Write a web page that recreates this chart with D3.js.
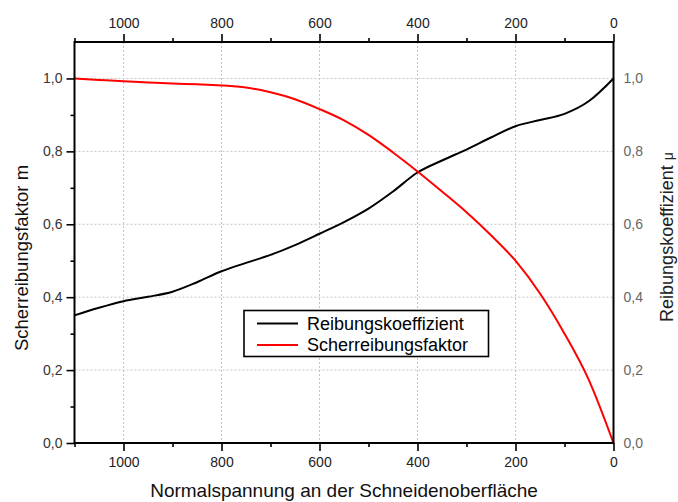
<!DOCTYPE html>
<html>
<head>
<meta charset="utf-8">
<script src="https://cdn.jsdelivr.net/npm/d3@7"></script>
<style>
  body { margin: 0; background: #fff; }
  svg { display: block; font-family: "Liberation Sans", Arial, sans-serif; }
</style>
</head>
<body>
<svg width="678" height="502"></svg>
<script>
// Normalspannung (x), values
var spannung = [1100, 1050, 1000, 950, 900, 850, 800, 750, 700, 650, 600, 550, 500, 450, 400, 350, 300, 250, 200, 150, 100, 50, 0];
var reibungskoeffizient = [0.350, 0.371, 0.389, 0.401, 0.415, 0.441, 0.471, 0.494, 0.516, 0.543, 0.574, 0.606, 0.643, 0.690, 0.742, 0.775, 0.805, 0.838, 0.869, 0.886, 0.903, 0.938, 1.0];
var scherreibungsfaktor = [1.0, 0.996, 0.992, 0.989, 0.986, 0.984, 0.981, 0.975, 0.962, 0.943, 0.916, 0.885, 0.845, 0.797, 0.745, 0.690, 0.633, 0.570, 0.500, 0.410, 0.300, 0.172, 0.0];

var xTicks = [1000, 800, 600, 400, 200, 0];
var xMinor = [1100, 900, 700, 500, 300, 100];
var yTicks = [0, 0.2, 0.4, 0.6, 0.8, 1.0];
var yMinor = [0.1, 0.3, 0.5, 0.7, 0.9];

var serien = ["Reibungskoeffizient", "Scherreibungsfaktor"];
var farben = ["#000000", "#ff0000"];

var svg = d3.select("svg");
var pLeft = 74.5, pRight = 613.5, pTop = 42, pBottom = 443;

var x = d3.scaleLinear().domain([1100, 0]).range([pLeft, pRight]);
var y = d3.scaleLinear().domain([0, 1.1]).range([pBottom, pTop]);

var fmt = function(d) { return d3.format(".1f")(d).replace(".", ","); };
var fmtX = d3.format("d");

// grid
var grid = svg.append("g").attr("stroke", "#c4c4c4").attr("stroke-width", 1).attr("stroke-dasharray", "2,2");
grid.selectAll("line.v").data(xTicks.filter(function(d) { return d > 0; }))
  .enter().append("line")
  .attr("x1", function(d) { return x(d); }).attr("x2", function(d) { return x(d); })
  .attr("y1", pTop).attr("y2", pBottom);
grid.selectAll("line.h").data(yTicks.filter(function(d) { return d > 0; }))
  .enter().append("line")
  .attr("y1", function(d) { return y(d); }).attr("y2", function(d) { return y(d); })
  .attr("x1", pLeft).attr("x2", pRight);

// lines
var data = [reibungskoeffizient, scherreibungsfaktor];
var line = d3.line()
  .x(function(d, i) { return x(spannung[i]); })
  .y(function(d) { return y(d); })
  .curve(d3.curveMonotoneX);

svg.append("g").selectAll("path")
  .data(data)
  .enter().append("path")
  .attr("d", line)
  .attr("fill", "none")
  .attr("stroke", function(d, i) { return farben[i]; })
  .attr("stroke-width", 2);

// axes
function styleAxis(g, color) {
  g.select(".domain").remove();
  g.selectAll(".tick line").attr("stroke", "#000").attr("stroke-width", 1.6);
  g.selectAll(".tick text").attr("fill", color).style("font-size", "14px")
    .style("font-family", "Liberation Sans, Arial, sans-serif");
}

var xBottom = svg.append("g").attr("transform", "translate(0," + pBottom + ")")
  .call(d3.axisBottom(x).tickValues(xTicks).tickSize(8).tickPadding(6).tickFormat(fmtX));
styleAxis(xBottom, "#222");
var xBottomMinor = svg.append("g").attr("transform", "translate(0," + pBottom + ")")
  .call(d3.axisBottom(x).tickValues(xMinor).tickSize(4).tickFormat(""));
styleAxis(xBottomMinor, "#222");

var xTop = svg.append("g").attr("transform", "translate(0," + pTop + ")")
  .call(d3.axisTop(x).tickValues(xTicks).tickSize(8).tickPadding(6).tickFormat(fmtX));
styleAxis(xTop, "#222");
var xTopMinor = svg.append("g").attr("transform", "translate(0," + pTop + ")")
  .call(d3.axisTop(x).tickValues(xMinor).tickSize(4).tickFormat(""));
styleAxis(xTopMinor, "#222");

var yLeft = svg.append("g").attr("transform", "translate(" + pLeft + ",0)")
  .call(d3.axisLeft(y).tickValues(yTicks).tickSize(8).tickPadding(4).tickFormat(fmt));
styleAxis(yLeft, "#333");
var yLeftMinor = svg.append("g").attr("transform", "translate(" + pLeft + ",0)")
  .call(d3.axisLeft(y).tickValues(yMinor).tickSize(4).tickFormat(""));
styleAxis(yLeftMinor, "#333");

var yRight = svg.append("g").attr("transform", "translate(" + pRight + ",0)")
  .call(d3.axisRight(y).tickValues(yTicks).tickSize(0).tickPadding(10).tickFormat(fmt));
styleAxis(yRight, "#666");

// frame
svg.append("rect")
  .attr("x", pLeft).attr("y", pTop)
  .attr("width", pRight - pLeft).attr("height", pBottom - pTop)
  .attr("fill", "none").attr("stroke", "#000").attr("stroke-width", 2);

// titles
svg.append("text")
  .attr("x", 344).attr("y", 497)
  .attr("text-anchor", "middle")
  .style("font-size", "19px")
  .attr("fill", "#111")
  .text("Normalspannung an der Schneidenoberfläche");

svg.append("text")
  .attr("transform", "translate(28," + 258 + ") rotate(-90)")
  .attr("text-anchor", "middle")
  .style("font-size", "18.5px")
  .attr("fill", "#111")
  .text("Scherreibungsfaktor m");

var rt = svg.append("text")
  .attr("transform", "translate(673," + 237 + ") rotate(-90)")
  .attr("text-anchor", "middle")
  .style("font-size", "18px")
  .attr("fill", "#222");
rt.append("tspan").text("Reibungskoeffizient ");
rt.append("tspan").style("font-size", "14px").text("μ");

// legend
var legend = svg.append("g");
legend.append("rect")
  .attr("x", 244).attr("y", 310.5)
  .attr("width", 244.5).attr("height", 46)
  .attr("fill", "#fff").attr("stroke", "#000").attr("stroke-width", 1.6);

var item = legend.selectAll("g.item")
  .data(serien)
  .enter().append("g")
  .attr("transform", function(d, i) { return "translate(0," + (323.5 + i * 21.5) + ")"; });
item.append("line")
  .attr("x1", 257).attr("x2", 298)
  .attr("stroke", function(d, i) { return farben[i]; })
  .attr("stroke-width", 2);
item.append("text")
  .attr("x", 307).attr("dy", "0.35em")
  .style("font-size", "18px")
  .attr("fill", "#000")
  .text(function(d) { return d; });
</script>
</body>
</html>
